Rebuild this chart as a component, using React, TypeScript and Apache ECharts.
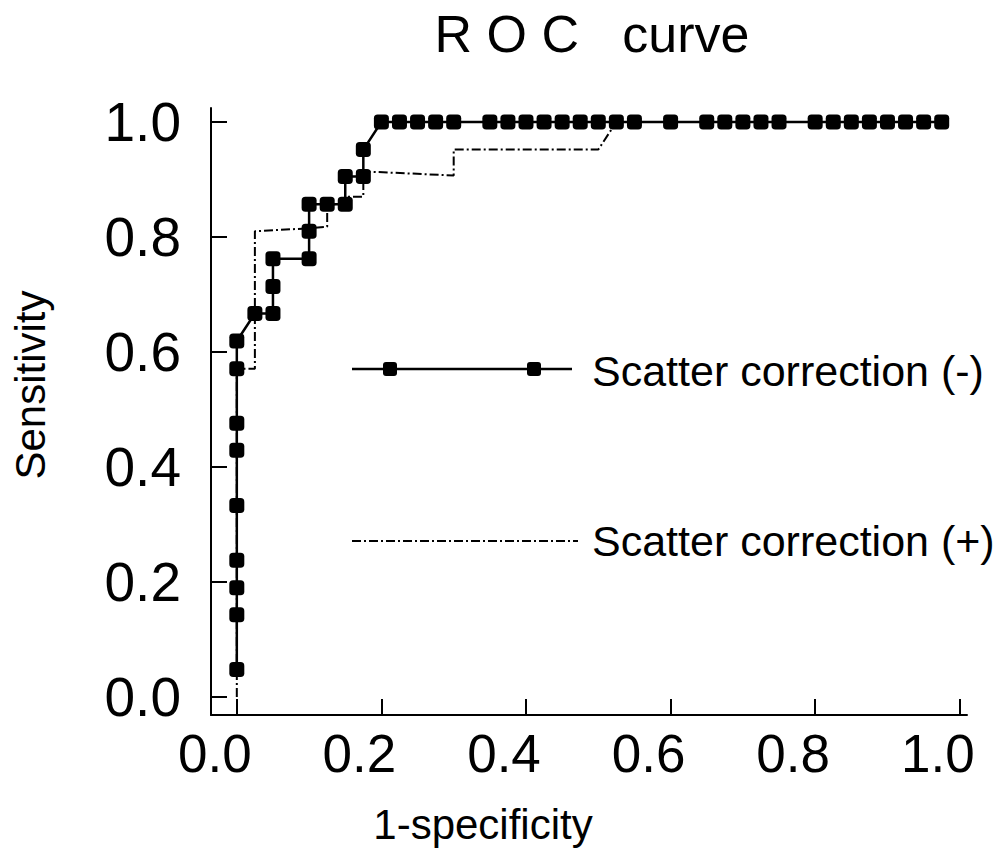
import { useEffect, useRef } from "react";
import * as echarts from "echarts";

const xTickValues = [0, 0.2, 0.4, 0.6, 0.8, 1.0];
const yTickValues = [0, 0.2, 0.4, 0.6, 0.8, 1.0];

const seriesNames = ["Scatter correction (-)", "Scatter correction (+)"];
const titleText = "R O C   curve";
const xName = "1-specificity";
const yName = "Sensitivity";

// Scatter correction (-): 1-specificity / sensitivity
const fprMinus = [
  0, 0, 0, 0, 0, 0, 0, 0, 0, 0.025, 0.05, 0.05, 0.05, 0.1, 0.1, 0.1, 0.125, 0.15, 0.15, 0.175, 0.175,
  0.2, 0.225, 0.25, 0.275, 0.3, 0.35, 0.375, 0.4, 0.425, 0.45, 0.475, 0.5, 0.525, 0.55, 0.6, 0.65,
  0.675, 0.7, 0.725, 0.75, 0.8, 0.825, 0.85, 0.875, 0.9, 0.925, 0.95, 0.975,
];
const sensMinus = [
  0.048, 0.143, 0.19, 0.238, 0.333, 0.429, 0.476, 0.571, 0.619, 0.667, 0.667, 0.714, 0.762, 0.762,
  0.81, 0.857, 0.857, 0.857, 0.905, 0.905, 0.952,
  1, 1, 1, 1, 1, 1, 1, 1, 1, 1, 1, 1, 1, 1, 1, 1, 1, 1, 1, 1, 1, 1, 1, 1, 1, 1, 1, 1,
];

// Scatter correction (+)
const fprPlus = [0, 0, 0.025, 0.025, 0.1, 0.125, 0.125, 0.15, 0.15, 0.175, 0.175, 0.3, 0.3, 0.5, 0.525, 0.975];
const sensPlus = [0, 0.571, 0.571, 0.81, 0.815, 0.818, 0.857, 0.857, 0.87, 0.87, 0.914, 0.907, 0.952, 0.952, 1, 1];

const FONT = "'Liberation Sans', Arial, Helvetica, sans-serif";

export default function App() {
  const ref = useRef<HTMLDivElement>(null);
  useEffect(() => {
    const chart = echarts.init(ref.current!, null, { renderer: "svg" });
    chart.setOption({
      animation: false,
      backgroundColor: "#ffffff",
      grid: { left: 211, right: 38, top: 108, bottom: 134, containLabel: false },
      xAxis: {
        type: "value",
        min: -0.0357,
        max: 1.01,
        splitLine: { show: false },
        axisLine: { show: true, onZero: false, lineStyle: { color: "#000", width: 2 } },
        axisTick: {
          show: true,
          inside: true,
          length: 16,
          customValues: xTickValues,
          lineStyle: { color: "#000", width: 2 },
        },
        axisLabel: {
          customValues: xTickValues,
          formatter: (v: number) => v.toFixed(1),
          fontSize: 53,
          fontFamily: FONT,
          color: "#000",
          margin: 12,
          padding: [0, 44, 0, 0],
        },
      },
      yAxis: {
        type: "value",
        min: -0.0313,
        max: 1.0243,
        splitLine: { show: false },
        axisLine: { show: true, onZero: false, lineStyle: { color: "#000", width: 2 } },
        axisTick: {
          show: true,
          inside: true,
          length: 16,
          customValues: yTickValues,
          lineStyle: { color: "#000", width: 2 },
        },
        axisLabel: {
          customValues: yTickValues,
          formatter: (v: number) => v.toFixed(1),
          fontSize: 55,
          fontFamily: FONT,
          color: "#000",
          margin: 30,
          padding: [10, 0, 0, 0],
        },
      },
      series: [
        {
          name: seriesNames[1],
          type: "line",
          data: fprPlus.map((x, i) => [x, sensPlus[i]]),
          symbol: "none",
          lineStyle: { color: "#000", width: 2, type: [9, 3, 2, 3] },
          z: 2,
        },
        {
          name: seriesNames[0],
          type: "line",
          data: fprMinus.map((x, i) => [x, sensMinus[i]]),
          symbol: "roundRect",
          symbolSize: 15,
          itemStyle: { color: "#000" },
          lineStyle: { color: "#000", width: 2.5 },
          z: 3,
        },
      ],
      graphic: [
        {
          type: "text",
          x: 592,
          y: 34,
          style: {
            text: titleText,
            fontSize: 52,
            fontFamily: FONT,
            fill: "#000",
            textAlign: "center",
            textVerticalAlign: "middle",
          },
        },
        {
          type: "text",
          x: 30,
          y: 385,
          rotation: Math.PI / 2,
          style: {
            text: yName,
            fontSize: 42,
            fontFamily: FONT,
            fill: "#000",
            textAlign: "center",
            textVerticalAlign: "middle",
          },
        },
        {
          type: "text",
          x: 483,
          y: 824,
          style: {
            text: xName,
            fontSize: 42,
            fontFamily: FONT,
            fill: "#000",
            textAlign: "center",
            textVerticalAlign: "middle",
          },
        },
        {
          type: "line",
          shape: { x1: 352, y1: 369, x2: 572, y2: 369 },
          style: { stroke: "#000", lineWidth: 2.5 },
        },
        {
          type: "rect",
          shape: { x: 383, y: 362, width: 14, height: 14, r: 3 },
          style: { fill: "#000" },
        },
        {
          type: "rect",
          shape: { x: 527, y: 362, width: 14, height: 14, r: 3 },
          style: { fill: "#000" },
        },
        {
          type: "text",
          x: 592,
          y: 371,
          style: {
            text: seriesNames[0],
            fontSize: 43,
            fontFamily: FONT,
            fill: "#000",
            textAlign: "left",
            textVerticalAlign: "middle",
          },
        },
        {
          type: "line",
          shape: { x1: 352, y1: 541, x2: 578, y2: 541 },
          style: { stroke: "#000", lineWidth: 2, lineDash: [9, 3, 2, 3] },
        },
        {
          type: "text",
          x: 592,
          y: 541,
          style: {
            text: seriesNames[1],
            fontSize: 43,
            fontFamily: FONT,
            fill: "#000",
            textAlign: "left",
            textVerticalAlign: "middle",
          },
        },
      ],
    });
    return () => chart.dispose();
  }, []);
  return (
    <div
      ref={ref}
      style={{ position: "fixed", left: 0, top: 0, width: 1005, height: 849 }}
    />
  );
}
